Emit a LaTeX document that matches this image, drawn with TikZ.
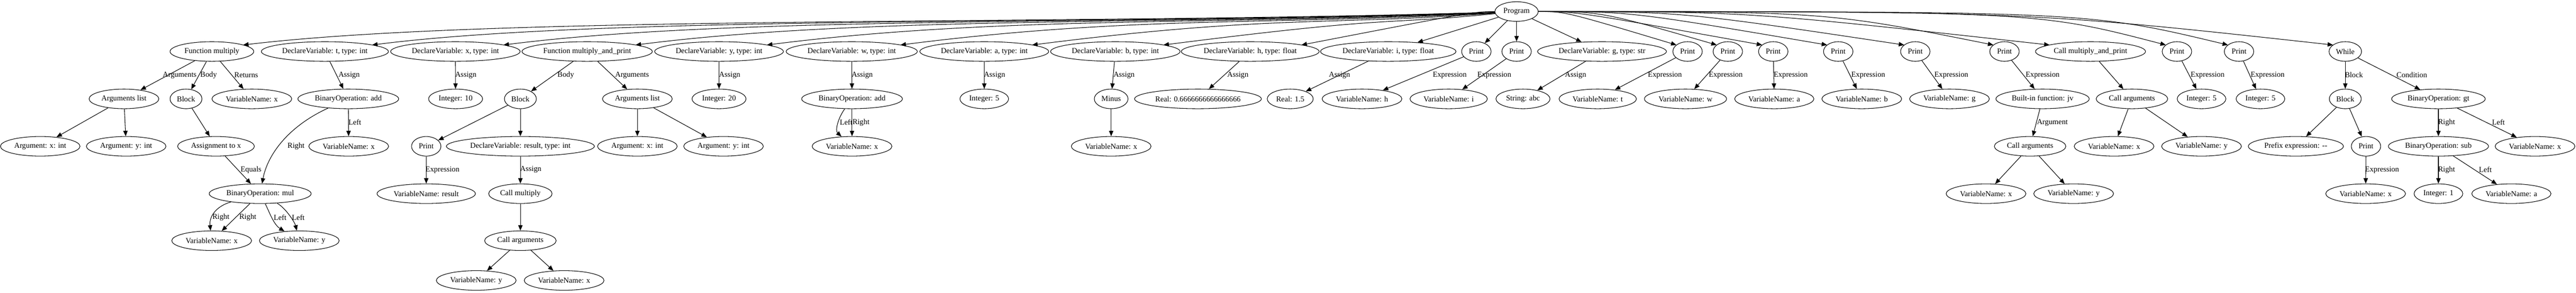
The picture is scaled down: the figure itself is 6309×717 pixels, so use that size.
\documentclass[tikz,border=0pt]{standalone}
\usepackage{fontspec}
\setmainfont{Liberation Serif}
\usetikzlibrary{shapes.geometric,arrows.meta,calc}
\tikzset{
	ast/.style={draw, ellipse, line width=1pt, minimum width=54pt, minimum height=36pt,
		inner xsep=4pt, inner ysep=2pt, font=\fontsize{14pt}{16pt}\selectfont},
	lbl/.style={inner sep=0pt, font=\fontsize{14pt}{16pt}\selectfont},
	link/.style={line width=1pt, -{Triangle[length=10pt,width=8pt]}}
}
\begin{document}
\begin{tikzpicture}[x=0.75pt,y=-0.75pt]
		\useasboundingbox (0,0) rectangle (6309,717);
		%root
		\node[ast] (prog) at (3714.3,28.3) {Program};
		%statements
		\node[ast] (fm) at (519,126.2) {Function multiply};
		\node[ast] (dt) at (795.7,126.2) {DeclareVariable: t, type: int};
		\node[ast] (dx) at (1115.3,126.2) {DeclareVariable: x, type: int};
		\node[ast] (fmp) at (1438,126.2) {Function multiply\_and\_print};
		\node[ast] (dy) at (1761,126.2) {DeclareVariable: y, type: int};
		\node[ast] (dw) at (2086,126.2) {DeclareVariable: w, type: int};
		\node[ast] (da) at (2410.6,126.2) {DeclareVariable: a, type: int};
		\node[ast] (db) at (2731.6,126.2) {DeclareVariable: b, type: int};
		\node[ast] (dh) at (3062,126.2) {DeclareVariable: h, type: float};
		\node[ast] (di) at (3400,126.2) {DeclareVariable: i, type: float};
		\node[ast] (pr1) at (3615.8,126.2) {Print};
		\node[ast] (pr2) at (3714.3,126.2) {Print};
		\node[ast] (dg) at (3923.5,126.2) {DeclareVariable: g, type: str};
		\node[ast] (pr3) at (4133,126.2) {Print};
		\node[ast] (pr4) at (4231.6,126.2) {Print};
		\node[ast] (pr5) at (4342.9,126.2) {Print};
		\node[ast] (pr6) at (4502,126.2) {Print};
		\node[ast] (pr7) at (4690.8,126.2) {Print};
		\node[ast] (pr8) at (4909.2,126.2) {Print};
		\node[ast] (cmp) at (5119.9,126.2) {Call multiply\_and\_print};
		\node[ast] (pr9) at (5331.6,126.2) {Print};
		\node[ast] (pr10) at (5483.7,126.2) {Print};
		\node[ast] (wh) at (5743.9,126.2) {While};
		%second level
		\node[ast] (fmal) at (303.6,242.3) {Arguments list};
		\node[ast] (fmb) at (455.6,242.3) {Block};
		\node[ast] (fmr) at (616.8,242.3) {VariableName: x};
		\node[ast] (tadd) at (853,242.3) {BinaryOperation: add};
		\node[ast] (xint) at (1115.8,242.3) {Integer: 10};
		\node[ast] (mpb) at (1274.5,242.3) {Block};
		\node[ast] (mpal) at (1561,242.3) {Arguments list};
		\node[ast] (yint) at (1761,242.3) {Integer: 20};
		\node[ast] (wadd) at (2086.7,242.3) {BinaryOperation: add};
		\node[ast] (aint) at (2410.6,242.3) {Integer: 5};
		\node[ast] (bmin) at (2721.4,242.3) {Minus};
		\node[ast] (hreal) at (2934,242.3) {Real: 0.6666666666666666};
		\node[ast] (ireal) at (3160,242.3) {Real: 1.5};
		\node[ast] (vh) at (3335.7,242.3) {VariableName: h};
		\node[ast] (vi) at (3548,242.3) {VariableName: i};
		\node[ast] (gstr) at (3730,242.3) {String: abc};
		\node[ast] (vt) at (3913,242.3) {VariableName: t};
		\node[ast] (vw) at (4128,242.3) {VariableName: w};
		\node[ast] (va) at (4345.4,242.3) {VariableName: a};
		\node[ast] (vb) at (4559.7,242.3) {VariableName: b};
		\node[ast] (vg) at (4774.5,242.3) {VariableName: g};
		\node[ast] (jv) at (5002.5,242.3) {Built-in function: jv};
		\node[ast] (cmpargs) at (5221.4,242.3) {Call arguments};
		\node[ast] (i5a) at (5391.8,242.3) {Integer: 5};
		\node[ast] (i5b) at (5536.2,242.3) {Integer: 5};
		\node[ast] (wblk) at (5743.9,242.3) {Block};
		\node[ast] (gt) at (5972,242.3) {BinaryOperation: gt};
		%third level
		\node[ast] (argx) at (98.5,358.5) {Argument: x: int};
		\node[ast] (argy) at (309,358.5) {Argument: y: int};
		\node[ast] (asg) at (529,358.5) {Assignment to x};
		\node[ast] (tvx) at (854,358.5) {VariableName: x};
		\node[ast] (mpp) at (1043.9,358.5) {Print};
		\node[ast] (dres) at (1274.5,358.5) {DeclareVariable: result, type: int};
		\node[ast] (margx) at (1561,358.5) {Argument: x: int};
		\node[ast] (margy) at (1772,358.5) {Argument: y: int};
		\node[ast] (wvx) at (2086.7,358.5) {VariableName: x};
		\node[ast] (bvx) at (2721.4,358.5) {VariableName: x};
		\node[ast] (jvargs) at (4972,358.5) {Call arguments};
		\node[ast] (cvx) at (5177.6,358.5) {VariableName: x};
		\node[ast] (cvy) at (5391.8,358.5) {VariableName: y};
		\node[ast] (pre) at (5622.8,358.5) {Prefix expression: -{}-};
		\node[ast] (wpr) at (5794.6,358.5) {Print};
		\node[ast] (sub) at (5972,358.5) {BinaryOperation: sub};
		\node[ast] (gvx) at (6208.6,358.5) {VariableName: x};
		%fourth level
		\node[ast] (mul) at (637.2,474.6) {BinaryOperation: mul};
		\node[ast] (vres) at (1043.9,474.6) {VariableName: result};
		\node[ast] (cm) at (1274.5,474.6) {Call multiply};
		\node[ast] (jvx) at (4864,474.6) {VariableName: x};
		\node[ast] (jvy) at (5078.6,474.6) {VariableName: y};
		\node[ast] (wvx2) at (5793.7,474.6) {VariableName: x};
		\node[ast] (one) at (5972,474.6) {Integer: 1};
		\node[ast] (sva) at (6150.7,474.6) {VariableName: a};
		%fifth and sixth level
		\node[ast] (mx) at (518.4,589.8) {VariableName: x};
		\node[ast] (my) at (733,589.8) {VariableName: y};
		\node[ast] (cargs) at (1274.5,589.8) {Call arguments};
		\node[ast] (cy) at (1166.3,687.2) {VariableName: y};
		\node[ast] (cx) at (1381.6,687.2) {VariableName: x};

		%edges from the root
		\foreach \n/\d in {fm/700,dt/700,dx/700,fmp/700,dy/700,dw/700,da/700,db/700}
			\draw[link] (prog) .. controls ($(prog)!0.35!(\n)$) and ($(\n)+(\d,-90)$) .. ($(\n)!0.74!(\n.east)+(0,-16)$);
		\draw[link] (prog) .. controls ($(dh)+(550,-97.9)$) .. ($(dh)!0.74!(dh.east)+(0,-16)$);
		\foreach \n in {di,pr1,pr2,dg}
			\draw[link] (prog) -- (\n);
		\foreach \n/\d in {pr3/300,pr4/310,pr5/483,pr6/509,pr7/574,pr8/437,cmp/840,pr9/342,pr10/369,wh/777}
			\draw[link] (prog) .. controls ($(\n)+(-\d,-97.9)$) .. ($(\n)!0.74!(\n.west)+(0,-16)$);

		%function multiply
		\draw[link] (fm) -- (fmal) node[lbl] at (440,184) {Arguments};
		\draw[link] (fm) -- (fmb) node[lbl] at (511,184) {Body};
		\draw[link] (fm) -- (fmr) node[lbl] at (603,184) {Returns};
		\draw[link] (fmal) -- (argx);
		\draw[link] (fmal) -- (argy);
		\draw[link] (fmb) -- (asg);
		\draw[link] (asg) -- (mul) node[lbl] at (614.8,416) {Equals};
		%t
		\draw[link] (dt) -- (tadd) node[lbl] at (855,184) {Assign};
		\draw[link] (tadd) .. controls (705,310) and (655,380) .. (mul) node[lbl] at (725,358.5) {Right};
		\draw[link] (tadd) -- (tvx) node[lbl] at (869,300) {Left};
		\draw[link] (mul) .. controls (530,505) and (512,530) .. (mx) node[lbl] at (541,532.7) {Right};
		\draw[link] (mul) -- (mx) node[lbl] at (607,532.7) {Right};
		\draw[link] (mul) .. controls (660,520) and (670,550) .. (my) node[lbl] at (686,532.7) {Left};
		\draw[link] (mul) .. controls (700,510) and (722,545) .. (my) node[lbl] at (730.6,532.7) {Left};
		%x
		\draw[link] (dx) -- (xint) node[lbl] at (1140.8,184) {Assign};
		%function multiply_and_print
		\draw[link] (fmp) -- (mpb) node[lbl] at (1385.7,184) {Body};
		\draw[link] (fmp) -- (mpal) node[lbl] at (1548,184) {Arguments};
		\draw[link] (mpb) -- (mpp);
		\draw[link] (mpb) -- (dres);
		\draw[link] (mpp) -- (vres) node[lbl] at (1083.7,416) {Expression};
		\draw[link] (dres) -- (cm) node[lbl] at (1300,416) {Assign};
		\draw[link] (cm) -- (cargs);
		\draw[link] (cargs) -- (cy);
		\draw[link] (cargs) -- (cx);
		\draw[link] (mpal) -- (margx);
		\draw[link] (mpal) -- (margy);
		%y, w, a, b, h, i
		\draw[link] (dy) -- (yint) node[lbl] at (1787,184) {Assign};
		\draw[link] (dw) -- (wadd) node[lbl] at (2111.7,184) {Assign};
		\draw[link] (wadd) .. controls (2052,290) and (2045,320) .. (wvx) node[lbl] at (2072.4,300) {Left};
		\draw[link] (wadd) -- (wvx) node[lbl] at (2108.7,300) {Right};
		\draw[link] (da) -- (aint) node[lbl] at (2435.7,184) {Assign};
		\draw[link] (db) -- (bmin) node[lbl] at (2753,184) {Assign};
		\draw[link] (bmin) -- (bvx);
		\draw[link] (dh) -- (hreal) node[lbl] at (3031.6,184) {Assign};
		\draw[link] (di) -- (ireal) node[lbl] at (3280.6,184) {Assign};
		%prints
		\draw[link] (pr1) -- (vh) node[lbl] at (3550.5,184) {Expression};
		\draw[link] (pr2) -- (vi) node[lbl] at (3659.7,184) {Expression};
		\draw[link] (dg) -- (gstr) node[lbl] at (3858.7,184) {Assign};
		\draw[link] (pr3) -- (vt) node[lbl] at (4077.6,184) {Expression};
		\draw[link] (pr4) -- (vw) node[lbl] at (4226.5,184) {Expression};
		\draw[link] (pr5) -- (va) node[lbl] at (4385.7,184) {Expression};
		\draw[link] (pr6) -- (vb) node[lbl] at (4575.5,184) {Expression};
		\draw[link] (pr7) -- (vg) node[lbl] at (4779,184) {Expression};
		\draw[link] (pr8) -- (jv) node[lbl] at (5002.6,184) {Expression};
		\draw[link] (jv) -- (jvargs) node[lbl] at (5026.5,300) {Argument};
		\draw[link] (jvargs) -- (jvx);
		\draw[link] (jvargs) -- (jvy);
		%call
		\draw[link] (cmp) -- (cmpargs);
		\draw[link] (cmpargs) -- (cvx);
		\draw[link] (cmpargs) -- (cvy);
		\draw[link] (pr9) -- (i5a) node[lbl] at (5406.6,184) {Expression};
		\draw[link] (pr10) -- (i5b) node[lbl] at (5553.6,184) {Expression};
		%while
		\draw[link] (wh) -- (wblk) node[lbl] at (5765,184) {Block};
		\draw[link] (wh) -- (gt) node[lbl] at (5906.8,184) {Condition};
		\draw[link] (wblk) -- (pre);
		\draw[link] (wblk) -- (wpr);
		\draw[link] (wpr) -- (wvx2) node[lbl] at (5834,416) {Expression};
		\draw[link] (gt) -- (sub) node[lbl] at (5991.9,300) {Right};
		\draw[link] (gt) -- (gvx) node[lbl] at (6119,300) {Left};
		\draw[link] (sub) -- (one) node[lbl] at (5991.9,416) {Right};
		\draw[link] (sub) -- (sva) node[lbl] at (6086.9,416) {Left};
	\end{tikzpicture}
\end{document}
